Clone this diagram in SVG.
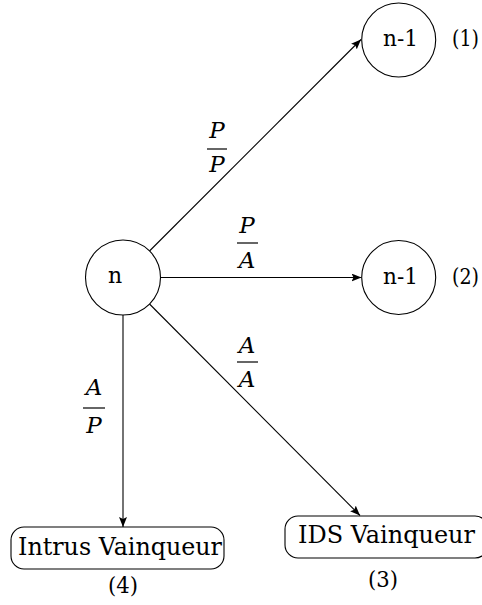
<svg xmlns="http://www.w3.org/2000/svg" width="482" height="605" viewBox="0 0 482 605">
<style>
.node{fill:#fff;stroke:#000;stroke-width:1.1}
text{font-family:"DejaVu Serif","Liberation Serif","Times New Roman",Times,serif;fill:#000}
.m{font-style:italic;font-size:23px;text-anchor:middle}
.edge{stroke:#000;stroke-width:1.1;fill:none;marker-end:url(#arr)}
.bar{stroke:#000;stroke-width:1.2}
</style>
<defs>
<marker id="arr" viewBox="0 0 10 8" refX="10" refY="4" markerWidth="10" markerHeight="8" markerUnits="userSpaceOnUse" orient="auto">
<path d="M0,0 L10,4 L0,8 L2,4 Z" fill="#000"/>
</marker>
</defs>
<rect width="482" height="605" fill="#fff"/>
<g id="connectors">
<line class="edge" x1="149.5" y1="251" x2="361" y2="39.5"/>
<line class="edge" x1="160.5" y1="277.5" x2="361.5" y2="277.5"/>
<line class="edge" x1="123" y1="315" x2="123" y2="527"/>
<line class="edge" x1="149.5" y1="304" x2="360" y2="515.5"/>
<g id="label-PP">
<text class="m" x="217" y="138">P</text>
<line class="bar" x1="207" y1="149" x2="227" y2="149"/>
<text class="m" x="217" y="172">P</text>
</g>
<g id="label-PA">
<text class="m" x="247" y="233">P</text>
<line class="bar" x1="237" y1="243" x2="258" y2="243"/>
<text class="m" x="247" y="268">A</text>
</g>
<g id="label-AA">
<text class="m" x="247" y="353">A</text>
<line class="bar" x1="237" y1="362" x2="258" y2="362"/>
<text class="m" x="247" y="387">A</text>
</g>
<g id="label-AP">
<text class="m" x="94" y="395">A</text>
<line class="bar" x1="83" y1="408" x2="105" y2="408"/>
<text class="m" x="94" y="433">P</text>
</g>
</g>
<g id="node-n">
<circle class="node" cx="123" cy="277.5" r="37.5"/>
<text x="115" y="283" font-size="22" text-anchor="middle">n</text>
</g>
<g id="node-n1-a">
<circle class="node" cx="398.7" cy="40" r="37"/>
<text x="383" y="46" font-size="22" textLength="35" lengthAdjust="spacingAndGlyphs">n-1</text>
<text x="452" y="46" font-size="22" textLength="27" lengthAdjust="spacingAndGlyphs">(1)</text>
</g>
<g id="node-n1-b">
<circle class="node" cx="398.7" cy="277.5" r="37"/>
<text x="383" y="284" font-size="22" textLength="35" lengthAdjust="spacingAndGlyphs">n-1</text>
<text x="452" y="284" font-size="22" textLength="27" lengthAdjust="spacingAndGlyphs">(2)</text>
</g>
<g id="node-intrus">
<rect class="node" x="11" y="527" width="213" height="42" rx="13"/>
<text x="18" y="555" font-size="25" textLength="204" lengthAdjust="spacingAndGlyphs">Intrus Vainqueur</text>
<text x="108" y="593" font-size="22" textLength="30" lengthAdjust="spacingAndGlyphs">(4)</text>
</g>
<g id="node-ids">
<rect class="node" x="285" y="516" width="203" height="42" rx="13"/>
<text x="298" y="543" font-size="25" textLength="177" lengthAdjust="spacingAndGlyphs">IDS Vainqueur</text>
<text x="368" y="587" font-size="22" textLength="30" lengthAdjust="spacingAndGlyphs">(3)</text>
</g>
</svg>
